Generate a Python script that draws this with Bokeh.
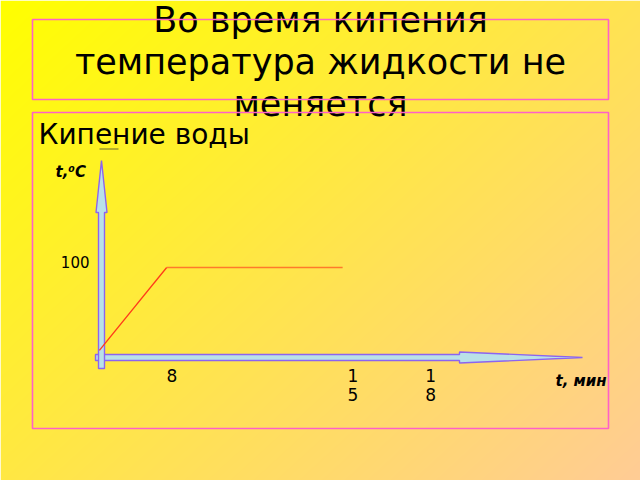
import numpy as np
from bokeh.plotting import figure
from bokeh.models import Range1d
from bokeh.core.properties import value
from bokeh.embed import file_html
from bokeh.resources import INLINE

# ---------------- data ----------------
title_lines = ["Во время кипения", "температура жидкости не", "меняется"]
subtitle = "Кипение воды"
y_axis_label = "t,\u2070C"
x_axis_label = "t, мин"

times = [5.2, 7.8, 14.6]          # min
temps = [8, 100, 100]             # °C
x_ticks = [8, 15, 18]
x_tick_labels = ["8", "1\n5", "1\n8"]
y_ticks = [100]
y_tick_labels = ["100"]

# ---------------- layout (reference pixel space) ----------------
W, H = 640, 480
OFF = 0
FONT = value("DejaVu Sans")

# linear mapping of data to reference pixels
T_SLOPE, T_ICPT = 25.88, -35.7     # px = icpt + slope * t
Y_AXIS, Y_SCALE = 357.0, 0.9       # y_px = Y_AXIS - Y_SCALE * T

p = figure(width=W, height=H, output_backend="svg", toolbar_location=None,
           x_range=Range1d(OFF, OFF + W), y_range=Range1d(OFF + H, OFF),
           min_border=0, outline_line_color=None)
p.axis.visible = False
p.grid.visible = False
p.background_fill_color = None
p.border_fill_color = None

p.extra_x_ranges["canvas"] = Range1d(0, W)
p.extra_y_ranges["canvas"] = Range1d(0, H)
p.extra_x_ranges["t"] = Range1d((OFF - T_ICPT) / T_SLOPE, (OFF + W - T_ICPT) / T_SLOPE)
p.extra_y_ranges["T"] = Range1d((Y_AXIS - (OFF + H)) / Y_SCALE, (Y_AXIS - OFF) / Y_SCALE)

# background gradient
yy, xx = np.mgrid[0:H, 0:W]
ref_x = xx + OFF
ref_y = (H - 1 - yy) + OFF
s = np.clip(0.55 * ref_x / 640.0 + 0.45 * ref_y / 480.0, 0, 1)
c0 = np.array([255, 255, 0], dtype=float)
c1 = np.array([255, 204, 150], dtype=float)
img = np.empty((H, W), dtype=np.uint32)
view = img.view(dtype=np.uint8).reshape((H, W, 4))
for k in range(3):
    view[:, :, k] = (c0[k] + (c1[k] - c0[k]) * s).astype(np.uint8)
view[:, :, 3] = 255
p.image_rgba(image=[img], x=0, y=0, dw=W, dh=H,
             x_range_name="canvas", y_range_name="canvas")

# title text
p.text(x=[320, 320, 320], y=[19, 61, 103], text=title_lines,
       text_font=FONT, text_font_size="35px", text_align="center",
       text_baseline="alphabetic", text_color="black")
# subtitle
p.text(x=[38], y=[134], text=[subtitle], text_font=FONT, text_font_size="28px",
       text_align="left", text_baseline="alphabetic", text_color="black")
p.segment(x0=[99], y0=[148.5], x1=[118], y1=[148.5], line_color="#6b6a30", line_width=1)

# boxes
p.quad(left=[32, 32], right=[608, 608], top=[19, 112], bottom=[99, 428],
       fill_color=None, line_color="#ff60c8", line_width=1.6)

# axis arrows
ARROW_FILL, ARROW_LINE = "#b9e1e8", "#8c64f0"
hx = [95, 459, 459, 582, 459, 459, 95]
hy = [354, 354, 351.5, 357, 362.5, 360, 360]
p.patch(hx, hy, fill_color=ARROW_FILL, line_color=ARROW_LINE, line_width=1.4)
vx = [98, 98, 95.5, 101, 106.5, 104, 104]
vy = [368, 212, 212, 160, 212, 212, 368]
p.patch(vx, vy, fill_color=ARROW_FILL, line_color=ARROW_LINE, line_width=1.4)

# data line
seg_colors = ["#ff3a1a", "#ff7a2a"]
p.segment(x0=times[:-1], y0=temps[:-1], x1=times[1:], y1=temps[1:],
          line_color=seg_colors, line_width=1.3,
          x_range_name="t", y_range_name="T")

# tick labels (multi-line labels sit a little lower in Bokeh; lift them)
label_top = [368 if "\n" not in t else 365 for t in x_tick_labels]
p.text(x=x_ticks, y=label_top, text=x_tick_labels,
       x_range_name="t", text_font=FONT, text_font_size="17px",
       text_align="center", text_baseline="top", text_line_height=0.97,
       text_color="black")
p.text(x=[89] * len(y_ticks), y=y_ticks, text=y_tick_labels,
       y_range_name="T", text_font=FONT, text_font_size="15px",
       text_align="right", text_baseline="alphabetic", y_offset=-6,
       text_color="black")

# axis labels
p.text(x=[55], y=[171], text=[y_axis_label], text_font=FONT, text_font_size="15px",
       text_font_style="bold italic", text_align="left", text_baseline="alphabetic",
       text_color="black")
p.text(x=[555], y=[380], text=[x_axis_label], text_font=FONT, text_font_size="15px",
       text_font_style="bold italic", text_align="left", text_baseline="alphabetic",
       text_color="black")

open("out.html", "w").write(file_html(p, INLINE))
